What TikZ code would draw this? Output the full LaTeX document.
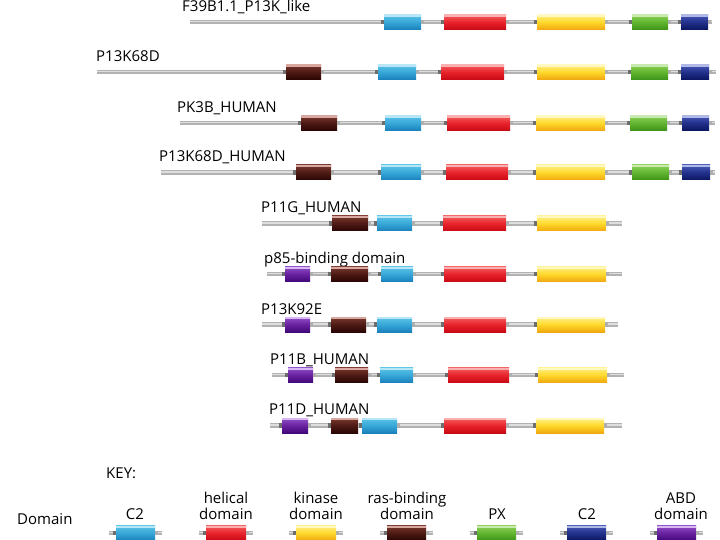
\documentclass[tikz,border=0pt]{standalone}
\usepackage{fontspec}
\setmainfont{Open Sans}
\definecolor{bbgray}{HTML}{B2B2B2}
\definecolor{bbhi}{HTML}{DEDEDE}
\definecolor{capc}{HTML}{6E6E6E}
\definecolor{cyhi}{HTML}{B8E6F6}\definecolor{cytop}{HTML}{5CC4E8}\definecolor{cymid}{HTML}{38A8D8}\definecolor{cybot}{HTML}{1A80BC}
\definecolor{rdhi}{HTML}{F8B0B0}\definecolor{rdtop}{HTML}{F36060}\definecolor{rdmid}{HTML}{E8232B}\definecolor{rdbot}{HTML}{C80A14}
\definecolor{ylhi}{HTML}{FFF8C0}\definecolor{yltop}{HTML}{FFF08A}\definecolor{ylmid}{HTML}{FFD92A}\definecolor{ylbot}{HTML}{F0A810}
\definecolor{grhi}{HTML}{C8EAB0}\definecolor{grtop}{HTML}{8ED25A}\definecolor{grmid}{HTML}{62B530}\definecolor{grbot}{HTML}{3E9418}
\definecolor{nvhi}{HTML}{B0B8E6}\definecolor{nvtop}{HTML}{4A5AB8}\definecolor{nvmid}{HTML}{22318C}\definecolor{nvbot}{HTML}{0C1660}
\definecolor{brhi}{HTML}{D8A8A0}\definecolor{brtop}{HTML}{7A3A30}\definecolor{brmid}{HTML}{4E1A14}\definecolor{brbot}{HTML}{2A0604}
\definecolor{pphi}{HTML}{D8B8F0}\definecolor{pptop}{HTML}{9050C8}\definecolor{ppmid}{HTML}{6A22A0}\definecolor{ppbot}{HTML}{42087A}
\tikzset{
  dombase/.style={rectangle, inner sep=0pt, minimum height=15pt, draw=none},
  domain/.style n args={4}{dombase, top color=#1, bottom color=#3, middle color=#2,
    path picture={\fill[#4] (path picture bounding box.north west) rectangle ([yshift=-2.2pt]path picture bounding box.north east);}},
  dc2/.style={domain={cytop}{cymid}{cybot}{cyhi}},
  dhel/.style={domain={rdtop}{rdmid}{rdbot}{rdhi}},
  dkin/.style={domain={yltop}{ylmid}{ylbot}{ylhi}},
  dras/.style={domain={brtop}{brmid}{brbot}{brhi}},
  dpx/.style={domain={grtop}{grmid}{grbot}{grhi}},
  dnav/.style={domain={nvtop}{nvmid}{nvbot}{nvhi}},
  dabd/.style={domain={pptop}{ppmid}{ppbot}{pphi}},
  backbone/.style={line width=4.4pt, bbgray},
  backhi/.style={line width=1.4pt, bbhi},
  lbl/.style={inner sep=0pt, anchor=base west, font=\fontsize{15}{16}\selectfont},
  klbl/.style={inner sep=0pt, anchor=base, align=center, font=\fontsize{15}{16}\selectfont},
}
\newcommand\dom[5]{%
  \pgfmathsetmacro\domw{#4-#3}%
  \node[#2, minimum width=\domw pt] (#1) at ({(#3+#4)/2},#5) {};
  \fill[capc] ([xshift=-3pt,yshift=-2.4pt]#1.west) rectangle ([yshift=2.4pt]#1.west);
  \fill[capc!55] ([yshift=-2.4pt]#1.east) rectangle ([xshift=2.5pt,yshift=2.4pt]#1.east);
}
\newcommand\bb[4]{%
  \coordinate (#1a) at (#2,#4); \coordinate (#1b) at (#3,#4);
  \draw[backbone] (#1a) -- (#1b);
  \draw[backhi] ([yshift=0.6pt]#1a) -- ([yshift=0.6pt]#1b);
}
\begin{document}
\begin{tikzpicture}[x=1pt,y=-1pt]
\useasboundingbox (0,0) rectangle (720,540);
% Row 1
\node[lbl] (l1) at (182,12) {F39B1.1\_P13K\_like};
\bb{r1}{190}{712}{22}
\dom{r1c}{dc2}{384}{421}{22}
\dom{r1h}{dhel}{444}{506}{22}
\dom{r1k}{dkin}{537}{605}{22}
\dom{r1p}{dpx}{632}{668}{22}
\dom{r1n}{dnav}{681}{708}{22}
% Row 2
\node[lbl] (l2) at (96,62) {P13K68D};
\bb{r2}{97}{716}{72}
\dom{r2r}{dras}{286}{321}{72}
\dom{r2c}{dc2}{378}{416}{72}
\dom{r2h}{dhel}{441}{504}{72}
\dom{r2k}{dkin}{537}{605}{72}
\dom{r2p}{dpx}{631}{668}{72}
\dom{r2n}{dnav}{681}{709}{72}
% Row 3
\node[lbl] (l3) at (177,113) {PK3B\_HUMAN};
\bb{r3}{180}{715}{123}
\dom{r3r}{dras}{301}{337}{123}
\dom{r3c}{dc2}{385}{421}{123}
\dom{r3h}{dhel}{447}{510}{123}
\dom{r3k}{dkin}{536}{605}{123}
\dom{r3p}{dpx}{630}{667}{123}
\dom{r3n}{dnav}{682}{709}{123}
% Row 4
\node[lbl] (l4) at (159,162) {P13K68D\_HUMAN};
\bb{r4}{161}{715}{172.5}
\dom{r4r}{dras}{296}{331}{172.5}
\dom{r4c}{dc2}{381}{421}{172.5}
\dom{r4h}{dhel}{446}{508}{172.5}
\dom{r4k}{dkin}{536}{605}{172.5}
\dom{r4p}{dpx}{632}{669}{172.5}
\dom{r4n}{dnav}{682}{710}{172.5}
% Row 5
\node[lbl] (l5) at (261,212) {P11G\_HUMAN};
\bb{r5}{262}{622}{223.5}
\dom{r5r}{dras}{332}{368}{223.5}
\dom{r5c}{dc2}{377}{412}{223.5}
\dom{r5h}{dhel}{443}{506}{223.5}
\dom{r5k}{dkin}{537}{606}{223.5}
% Row 6
\node[lbl] (l6) at (264,263) {p85-binding domain};
\bb{r6}{267}{622}{274}
\dom{r6a}{dabd}{285}{310}{274}
\dom{r6r}{dras}{331}{368}{274}
\dom{r6c}{dc2}{381}{413}{274}
\dom{r6h}{dhel}{444}{506}{274}
\dom{r6k}{dkin}{537}{606}{274}
% Row 7
\node[lbl] (l7) at (261,314) {P13K92E};
\bb{r7}{262}{618}{324.5}
\dom{r7a}{dabd}{285}{310}{324.5}
\dom{r7r}{dras}{331}{366}{324.5}
\dom{r7c}{dc2}{377}{412}{324.5}
\dom{r7h}{dhel}{444}{506}{324.5}
\dom{r7k}{dkin}{537}{605}{324.5}
% Row 8
\node[lbl] (l8) at (270,364) {P11B\_HUMAN};
\bb{r8}{272}{624}{375}
\dom{r8a}{dabd}{288}{313}{375}
\dom{r8r}{dras}{335}{368}{375}
\dom{r8c}{dc2}{380}{413}{375}
\dom{r8h}{dhel}{448}{509}{375}
\dom{r8k}{dkin}{538}{607}{375}
% Row 9
\node[lbl] (l9) at (269,414) {P11D\_HUMAN};
\bb{r9}{270}{622}{425.5}
\dom{r9a}{dabd}{282}{308}{425.5}
\dom{r9r}{dras}{331}{358}{425.5}
\dom{r9c}{dc2}{362}{397}{425.5}
\dom{r9h}{dhel}{444}{506}{425.5}
\dom{r9k}{dkin}{536}{604}{425.5}
% Key
\node[lbl] (key) at (106,478) {KEY:};
\node[lbl] (kdom) at (17,524) {Domain};
\node[klbl] (kt1) at (135,519) {C2};
\node[klbl] (kt2) at (226,519) {helical\\domain};
\node[klbl] (kt3) at (316,519) {kinase\\domain};
\node[klbl] (kt4) at (407,519) {ras-binding\\domain};
\node[klbl] (kt5) at (497,519) {PX};
\node[klbl] (kt6) at (587,519) {C2};
\node[klbl] (kt7) at (681,519) {ABD\\domain};
\bb{k1}{109}{162}{533}
\dom{k1d}{dc2}{116}{155}{533}
\bb{k2}{199}{253}{533}
\dom{k2d}{dhel}{206}{246}{533}
\bb{k3}{289}{343}{533}
\dom{k3d}{dkin}{296}{336}{533}
\bb{k4}{380}{433}{533}
\dom{k4d}{dras}{387}{426}{533}
\bb{k5}{470}{523}{533}
\dom{k5d}{dpx}{477}{516}{533}
\bb{k6}{560}{613}{533}
\dom{k6d}{dnav}{567}{606}{533}
\bb{k7}{650}{703}{533}
\dom{k7d}{dabd}{657}{696}{533}
\end{tikzpicture}
\end{document}
